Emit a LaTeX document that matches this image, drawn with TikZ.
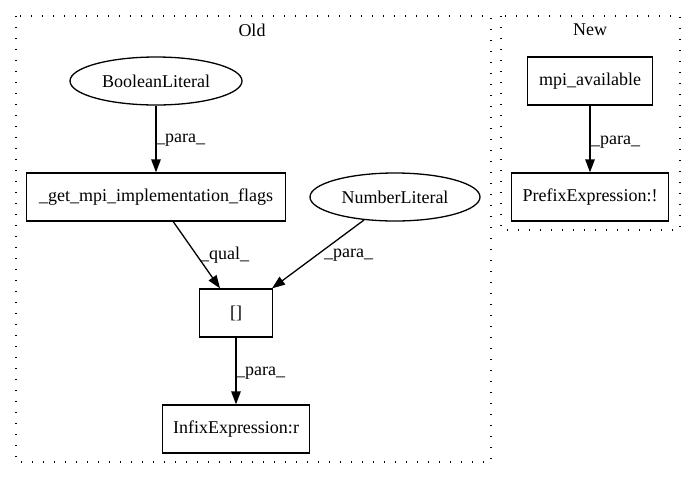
\documentclass[tikz,border=0pt]{standalone}
\usepackage{fontspec}
\setmainfont{Liberation Serif}
\usetikzlibrary{arrows.meta,shapes.geometric}
\begin{document}
\begin{tikzpicture}[x=1pt,y=-1pt,
  every node/.style={font=\fontsize{18pt}{21pt}\selectfont},
  cluster/.style={draw,line width=1.3pt,dash pattern=on 1.3pt off 9.7pt},
  boxnode/.style={draw,line width=1.3pt,rectangle,minimum height=48pt,inner sep=0pt},
  ellnode/.style={draw,line width=1.3pt,ellipse,minimum height=48pt,inner sep=0pt},
  edge/.style={draw,line width=1.3pt,-{Triangle[length=13pt,width=9.5pt]}},
  elabel/.style={anchor=west,inner sep=0pt}]
\useasboundingbox (0,0) rectangle (696,480);
\draw[cluster] (16,16) rectangle (491,462);
\draw[cluster] (501,16) rectangle (680,230);
\node (oldlbl) at (252,30) {Old};
\node (newlbl) at (590,30) {New};
\node[ellnode,minimum width=172pt] (bool) at (156,81) {BooleanLiteral};
\node[boxnode,minimum width=259pt] (getmpi) at (156,197) {\_get\_mpi\_implementation\_flags};
\node[ellnode,minimum width=170pt] (num) at (395,197) {NumberLiteral};
\node[boxnode,minimum width=73pt] (idx) at (236,313) {[]};
\node[boxnode,minimum width=147pt] (infix) at (236,429) {InfixExpression:r};
\node[boxnode,minimum width=125pt] (mpiav) at (590,81) {mpi\_available};
\node[boxnode,minimum width=157pt] (prefix) at (590,197) {PrefixExpression:!};
\draw[edge] (bool) -- (getmpi);
\draw[edge] (getmpi) -- ([xshift=-16pt]idx.north);
\draw[edge] (num) -- ([xshift=36pt]idx.north);
\draw[edge] (idx) -- (infix);
\draw[edge] (mpiav) -- (prefix);
\node[elabel] (l1) at (156,140) {\_para\_};
\node[elabel] (l2) at (200,255) {\_qual\_};
\node[elabel] (l3) at (324,255) {\_para\_};
\node[elabel] (l4) at (236,373) {\_para\_};
\node[elabel] (l5) at (591,142) {\_para\_};
\end{tikzpicture}
\end{document}
